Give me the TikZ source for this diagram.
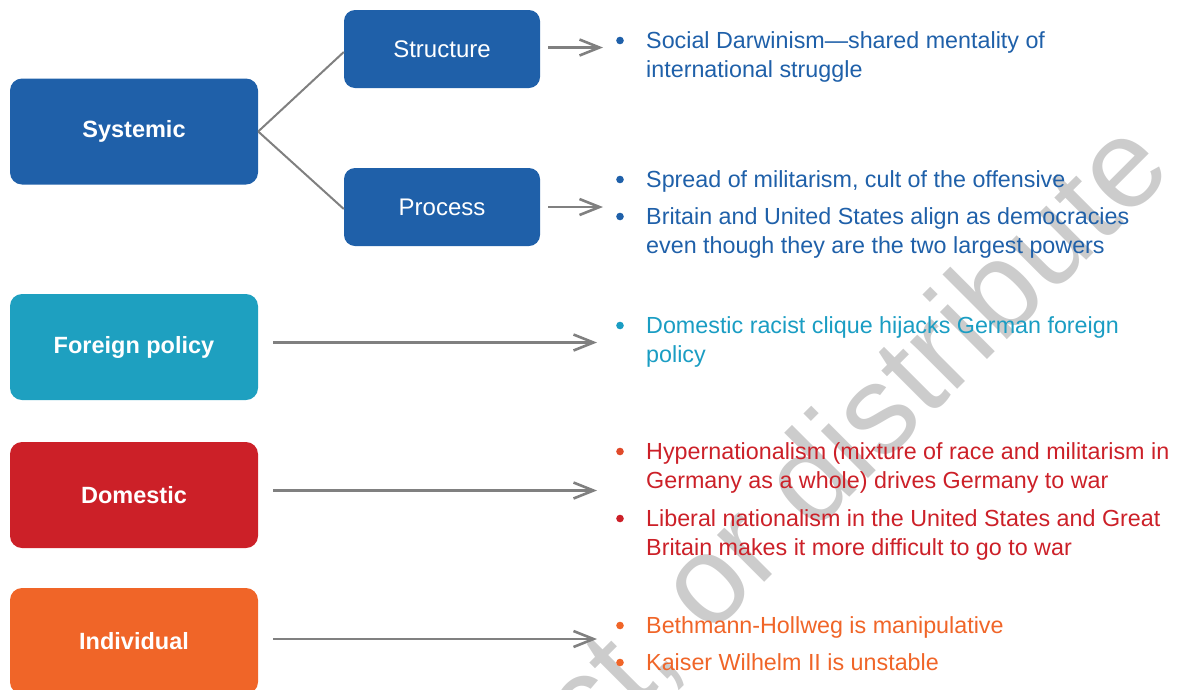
\documentclass[tikz,border=0pt]{standalone}
\usepackage{fontspec}
\setmainfont{Liberation Sans}
\usetikzlibrary{arrows.meta}
\definecolor{cblue}{HTML}{1F60A9}
\definecolor{cteal}{HTML}{1EA0C0}
\definecolor{ctealtxt}{HTML}{1A9DC3}
\definecolor{cred}{HTML}{CC2028}
\definecolor{cbulletor}{HTML}{E04A2A}
\definecolor{corange}{HTML}{F06528}
\definecolor{cgray}{HTML}{808080}
\definecolor{cwater}{HTML}{CCCCCC}
\begin{document}
\begin{tikzpicture}[x=1pt,y=-1pt,
  bigbox/.style={rounded corners=12pt, minimum width=248pt, minimum height=106pt, inner sep=0pt, text=white, font=\fontsize{23.5}{28}\selectfont\bfseries},
  subbox/.style={rounded corners=11pt, minimum width=196pt, minimum height=78pt, inner sep=0pt, text=white, fill=cblue, font=\fontsize{24}{28}\selectfont},
  conn/.style={draw=cgray, line width=2pt},
  arr/.style={draw=cgray, line width=2.6pt, -{Straight Barb[length=20pt,width=16pt]}},
  itemline/.style={anchor=base west, inner sep=0pt, font=\fontsize{23.3}{29}\selectfont},
  dot/.style={circle, inner sep=0pt, minimum size=7.6pt}
]
\useasboundingbox (0,0) rectangle (1180,689);
% watermark
\node[anchor=base east, rotate=45, inner sep=0pt, text=cwater, font=\fontsize{126}{126}\selectfont] (wm) at (1175,172) {ct, or distribute};

% boxes
\node[bigbox, fill=cblue] (sys) at (134,131.5) {Systemic};
\node[subbox] (str) at (442,49) {Structure};
\node[subbox] (pro) at (442,207) {Process};
\node[bigbox, fill=cteal] (fp) at (134,347) {Foreign policy};
\node[bigbox, fill=cred] (dom) at (134,495) {Domestic};
\node[bigbox, fill=corange] (ind) at (134,641) {Individual};

% connectors
\draw[conn] (sys.east) -- ([yshift=-3pt]str.west);
\draw[conn] (sys.east) -- ([yshift=-2pt]pro.west);
\coordinate (e1) at (603,0);
\coordinate (e2) at (597,0);
\draw[arr] ([xshift=8pt,yshift=1.5pt]str.east) -- ([yshift=1.5pt]str.east -| e1);
\draw[arr] ([xshift=8pt]pro.east) -- (pro.east -| e1);
\draw[arr] ([xshift=15pt,yshift=4.5pt]fp.east) -- ([yshift=4.5pt]fp.east -| e2);
\draw[arr] ([xshift=15pt,yshift=4.5pt]dom.east) -- ([yshift=4.5pt]dom.east -| e2);
\draw[arr] ([xshift=15pt,yshift=2pt]ind.east) -- ([yshift=2pt]ind.east -| e2);

% structure items
\node[dot, fill=cblue] (b1) at (620,40.5) {};
\node[itemline, text=cblue] (t1a) at (646,48) {Social Darwinism—shared mentality of};
\node[itemline, text=cblue] (t1b) at (646,77) {international struggle};
% process items
\node[dot, fill=cblue] (b2) at (620,179.5) {};
\node[itemline, text=cblue] (t2a) at (646,187) {Spread of militarism, cult of the offensive};
\node[dot, fill=cblue] (b3) at (620,216.5) {};
\node[itemline, text=cblue] (t3a) at (646,224) {Britain and United States align as democracies};
\node[itemline, text=cblue] (t3b) at (646,253) {even though they are the two largest powers};
% foreign policy
\node[dot, fill=ctealtxt] (b4) at (620,325.5) {};
\node[itemline, text=ctealtxt] (t4a) at (646,333) {Domestic racist clique hijacks German foreign};
\node[itemline, text=ctealtxt] (t4b) at (646,362) {policy};
% domestic
\node[dot, fill=cbulletor] (b5) at (620,451.5) {};
\node[itemline, text=cred] (t5a) at (646,459) {Hypernationalism (mixture of race and militarism in};
\node[itemline, text=cred] (t5b) at (646,488.5) {Germany as a whole) drives Germany to war};
\node[dot, fill=cred] (b6) at (620,518.5) {};
\node[itemline, text=cred] (t6a) at (646,526) {Liberal nationalism in the United States and Great};
\node[itemline, text=cred] (t6b) at (646,555) {Britain makes it more difficult to go to war};
% individual
\node[dot, fill=corange] (b7) at (620,625.5) {};
\node[itemline, text=corange] (t7a) at (646,633) {Bethmann-Hollweg is manipulative};
\node[dot, fill=corange] (b8) at (620,662.5) {};
\node[itemline, text=corange] (t8a) at (646,670) {Kaiser Wilhelm II is unstable};
\end{tikzpicture}
\end{document}
